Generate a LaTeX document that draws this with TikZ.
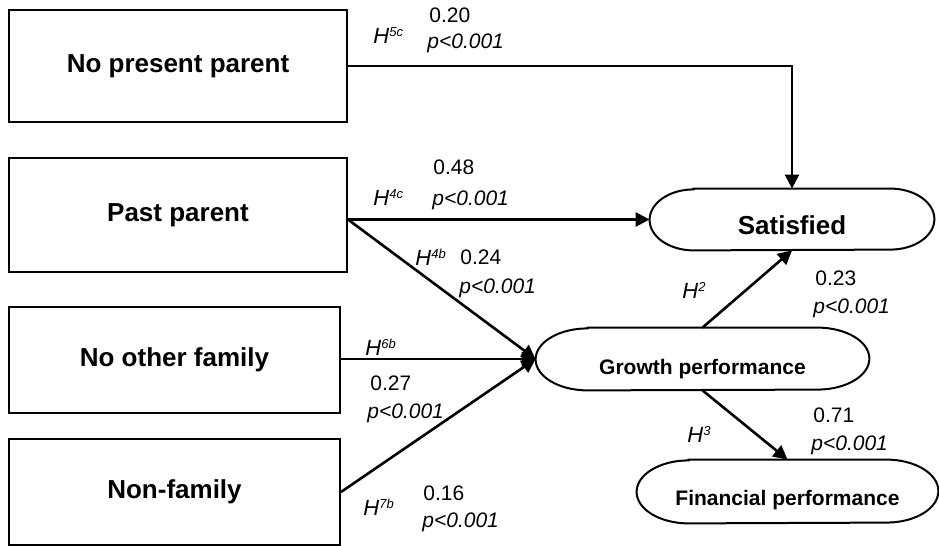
\documentclass[tikz,border=0pt]{standalone}
\usepackage{fontspec}
\setmainfont{Liberation Sans}
\usetikzlibrary{arrows.meta,calc}
\newcommand\Hsup[1]{H\raisebox{3.4pt}{\fontsize{6.5}{7}\selectfont #1}}
\begin{document}
\begin{tikzpicture}[x=0.5pt,y=-0.5pt,
  box/.style={draw,line width=1pt,inner sep=0pt,font=\fontsize{13}{15}\selectfont\bfseries},
  stad/.style={inner sep=0pt,font=\fontsize{10.5}{12}\selectfont\bfseries,text depth=0pt},
  stadline/.style={line width=1pt},
  conn/.style={line width=1.3pt},
  arr/.style={conn,-{Triangle[length=7pt,width=7pt]}},
  lab/.style={inner sep=0pt,anchor=base west,font=\fontsize{10.5}{12}\selectfont},
  pv/.style={lab,font=\fontsize{10.5}{12}\selectfont\itshape},
  hy/.style={lab,font=\fontsize{11}{12}\selectfont\itshape}]
\useasboundingbox (0,0) rectangle (939,546);
\fill[white] (0,0) rectangle (939,546);

% boxes
\node[box,minimum width=169pt,minimum height=56pt] (b1) at (178,66) {No present parent};
\node[box,minimum width=169pt,minimum height=57pt] (b2) at (178,215) {Past parent};
\node[box,minimum width=165.5pt,minimum height=53pt] (b3) at (174.5,360) {No other family};
\node[box,minimum width=165.5pt,minimum height=53pt] (b4) at (174.5,492) {Non-family};

% rounded outcome nodes
\node[stad,minimum width=142pt,minimum height=30.5pt,font=\fontsize{13}{15}\selectfont\bfseries,text height=15.3pt] (sat) at (792,219.5) {Satisfied};
\node[stad,minimum width=166.5pt,minimum height=31pt,text height=15.5pt] (gro) at (702.5,359) {Growth performance};
\node[stad,minimum width=150.5pt,minimum height=31.5pt,text height=13.5pt] (fin) at (787.5,491.5) {Financial performance};

\foreach \n/\r/\s in {sat/22pt/15.25pt,gro/26pt/15.5pt,fin/26pt/15.75pt}{
  \draw[stadline] ([xshift=\r]\n.north west) -- ([xshift=-\r]\n.north east)
    arc[start angle=90,end angle=-90,x radius=\r,y radius=\s]
    -- ([xshift=\r]\n.south west)
    arc[start angle=270,end angle=90,x radius=\r,y radius=\s] -- cycle;
}

% connectors
\coordinate (q2) at (b2.east |- sat.west);
\coordinate (q3) at (b3.east |- gro.west);
\draw[arr] (b1.east) -| (sat.north);
\draw[arr] (q2) -- (sat.west);
\draw[arr] (q2) -- (gro.west);
\draw[arr] (q3) -- (gro.west);
\draw[arr] (b4.east) -- (gro.west);
\draw[arr] (gro.north) -- (sat.south);
\draw[arr] (gro.south) -- (fin.north);

% labels
\node[hy] (h5c) at (373,43) {\Hsup{5c}};
\node[lab] (v5c) at (429,23) {0.20};
\node[pv] (p5c) at (427,48) {p<0.001};

\node[hy] (h4c) at (373,205) {\Hsup{4c}};
\node[lab] (v4c) at (433,174) {0.48};
\node[pv] (p4c) at (432,205) {p<0.001};

\node[hy] (h4b) at (415,265) {\Hsup{4b}};
\node[lab] (v4b) at (460,264) {0.24};
\node[pv] (p4b) at (459,293) {p<0.001};

\node[hy] (h6b) at (365,355) {\Hsup{6b}};
\node[lab] (v6b) at (370,390) {0.27};
\node[pv] (p6b) at (367,418) {p<0.001};

\node[hy] (h7b) at (363,515) {\Hsup{7b}};
\node[lab] (v7b) at (423,500) {0.16};
\node[pv] (p7b) at (422,527) {p<0.001};

\node[hy] (h2) at (682,298) {\Hsup{2}};
\node[lab] (v2) at (815,285) {0.23};
\node[pv] (p2) at (813,313) {p<0.001};

\node[hy] (h3) at (687,442) {\Hsup{3}};
\node[lab] (v3) at (813,422) {0.71};
\node[pv] (p3) at (811,450) {p<0.001};
\end{tikzpicture}
\end{document}
